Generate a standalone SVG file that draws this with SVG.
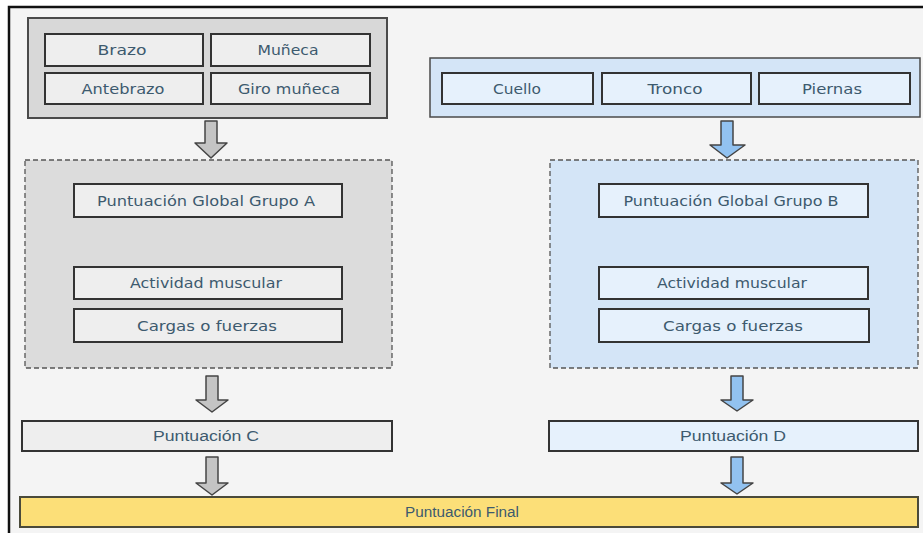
<svg xmlns="http://www.w3.org/2000/svg" width="923" height="533" viewBox="0 0 923 533">
<defs>
<style>
.t{font-family:"DejaVu Sans","Liberation Sans",sans-serif;font-size:13.5px;fill:#3d5a6e;text-anchor:middle;dominant-baseline:central}
.n{font-family:"Liberation Sans",sans-serif;font-size:14px;fill:#3d5a6e;text-anchor:middle;dominant-baseline:central}
.gOut{fill:#d8d8d8;stroke:#4a4a4a;stroke-width:2}
.gIn{fill:#eeeeee;stroke:#333;stroke-width:2}
.bOut{fill:#d4e5f7;stroke:#4a4a4a;stroke-width:1.5}
.bIn{fill:#e6f1fc;stroke:#333;stroke-width:2}
.gDash{fill:#dcdcdc;stroke:#555;stroke-width:1.3;stroke-dasharray:5 3}
.bDash{fill:#d4e5f7;stroke:#555;stroke-width:1.3;stroke-dasharray:5 3}
.ga{fill:#c4c4c4;stroke:#444;stroke-width:1.5;stroke-linejoin:round}
.ba{fill:#92c2f0;stroke:#444;stroke-width:1.5;stroke-linejoin:round}
</style>
</defs>
<rect x="0" y="0" width="923" height="533" fill="#ffffff"/>
<rect x="9" y="7" width="916" height="530" fill="#f4f4f4" stroke="#111" stroke-width="2.5"/>

<g id="grupoA">
<rect class="gOut" x="28" y="18" width="359" height="100"/>
<g id="brazo"><rect class="gIn" x="45" y="34" width="158" height="32"/><text class="t" x="122" y="50" textLength="49" lengthAdjust="spacingAndGlyphs">Brazo</text></g>
<g id="muneca"><rect class="gIn" x="211" y="34" width="159" height="32"/><text class="t" x="288" y="50" textLength="61" lengthAdjust="spacingAndGlyphs">Muñeca</text></g>
<g id="antebrazo"><rect class="gIn" x="45" y="73" width="158" height="31"/><text class="t" x="123" y="89" textLength="83" lengthAdjust="spacingAndGlyphs">Antebrazo</text></g>
<g id="giro"><rect class="gIn" x="211" y="73" width="159" height="31"/><text class="t" x="289" y="89" textLength="102" lengthAdjust="spacingAndGlyphs">Giro muñeca</text></g>
</g>

<g id="grupoB">
<rect class="bOut" x="430" y="58" width="490" height="59"/>
<g id="cuello"><rect class="bIn" x="442" y="73" width="151" height="31"/><text class="t" x="517" y="89" textLength="48" lengthAdjust="spacingAndGlyphs">Cuello</text></g>
<g id="tronco"><rect class="bIn" x="602" y="73" width="149" height="31"/><text class="t" x="675" y="89" textLength="55" lengthAdjust="spacingAndGlyphs">Tronco</text></g>
<g id="piernas"><rect class="bIn" x="759" y="73" width="151" height="31"/><text class="t" x="832" y="89" textLength="60" lengthAdjust="spacingAndGlyphs">Piernas</text></g>
</g>

<g id="bloqueA">
<rect class="gDash" x="25" y="160" width="367" height="208"/>
<g id="globalA"><rect class="gIn" x="74" y="184" width="268" height="33"/><text class="t" x="206" y="201" textLength="218" lengthAdjust="spacingAndGlyphs">Puntuación Global Grupo A</text></g>
<g id="actA"><rect class="gIn" x="74" y="267" width="268" height="32"/><text class="t" x="206" y="283" textLength="152" lengthAdjust="spacingAndGlyphs">Actividad muscular</text></g>
<g id="cargaA"><rect class="gIn" x="74" y="309" width="268" height="33"/><text class="t" x="207" y="326" textLength="140" lengthAdjust="spacingAndGlyphs">Cargas o fuerzas</text></g>
</g>

<g id="bloqueB">
<rect class="bDash" x="550" y="160" width="368" height="208"/>
<g id="globalB"><rect class="bIn" x="599" y="184" width="269" height="33"/><text class="t" x="731" y="201" textLength="215" lengthAdjust="spacingAndGlyphs">Puntuación Global Grupo B</text></g>
<g id="actB"><rect class="bIn" x="599" y="267" width="269" height="32"/><text class="t" x="732" y="283" textLength="150" lengthAdjust="spacingAndGlyphs">Actividad muscular</text></g>
<g id="cargaB"><rect class="bIn" x="599" y="309" width="270" height="33"/><text class="t" x="733" y="326" textLength="140" lengthAdjust="spacingAndGlyphs">Cargas o fuerzas</text></g>
</g>

<g id="puntC"><rect class="gIn" x="22" y="421" width="370" height="30"/><text class="n" x="206" y="436" textLength="106" lengthAdjust="spacingAndGlyphs">Puntuación C</text></g>
<g id="puntD"><rect class="bIn" x="549" y="421" width="369" height="30"/><text class="n" x="733" y="436" textLength="106" lengthAdjust="spacingAndGlyphs">Puntuación D</text></g>
<g id="final"><rect x="20" y="497" width="898" height="30" fill="#fcdf78" stroke="#4a4a3a" stroke-width="2"/><text class="n" x="462" y="512" textLength="114" lengthAdjust="spacingAndGlyphs">Puntuación Final</text></g>

<g id="connectors">
<path class="ga" d="M205,121 H217 V143 H227 L211,158 L195,143 H205 Z"/>
<path class="ba" d="M721,121 H733 V145 H745 L727,158 L710,145 H721 Z"/>
<path class="ga" d="M206,376 H218 V400 H228 L212,412 L196,400 H206 Z"/>
<path class="ba" d="M731,376 H743 V400 H753 L737,411 L721,400 H731 Z"/>
<path class="ga" d="M206,457 H218 V483 H228 L212,495 L196,483 H206 Z"/>
<path class="ba" d="M731,457 H743 V483 H753 L737,494 L721,483 H731 Z"/>
</g>
</svg>
